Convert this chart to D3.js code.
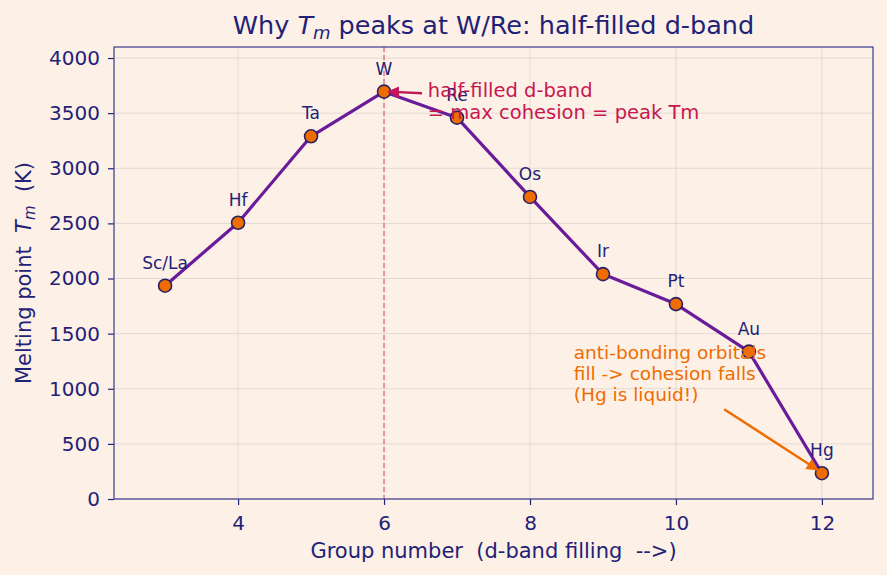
<!DOCTYPE html>
<html>
<head>
<meta charset="utf-8">
<script src="https://cdn.jsdelivr.net/npm/d3@7"></script>
<style>
  body { margin: 0; background: #fdf1e7; }
  svg text { font-family: "DejaVu Sans", sans-serif; white-space: pre; }
</style>
</head>
<body>
<svg id="chart"></svg>
<script>
// values
const groups = [3, 4, 5, 6, 7, 8, 9, 10, 11, 12];
const elements = ["Sc/La", "Hf", "Ta", "W", "Re", "Os", "Ir", "Pt", "Au", "Hg"];
const meltingK = [1935, 2506, 3290, 3695, 3459, 2740, 2040, 1768, 1337, 234];
const xTicks = [4, 6, 8, 10, 12];
const yTicks = [0, 500, 1000, 1500, 2000, 2500, 3000, 3500, 4000];

const W = 887, H = 575;
const margin = {top: 47, right: 14, bottom: 76, left: 114};
const width = W - margin.left - margin.right;
const height = H - margin.top - margin.bottom;

const navy = "#1f2276";
const svg = d3.select("#chart").attr("width", W).attr("height", H);
svg.append("rect").attr("width", W).attr("height", H).attr("fill", "#fdf1e7");

const g = svg.append("g").attr("transform", `translate(${margin.left},${margin.top})`);

const x = d3.scaleLinear().domain([2.3, 12.7]).range([0, width]);
const y = d3.scaleLinear().domain([0, 4100]).range([height, 0]);

// grid
g.append("g").selectAll("line").data(xTicks).join("line")
  .attr("x1", d => x(d)).attr("x2", d => x(d)).attr("y1", 0).attr("y2", height)
  .attr("stroke", "#b8b0b0").attr("stroke-opacity", 0.35).attr("stroke-width", 1);
g.append("g").selectAll("line").data(yTicks).join("line")
  .attr("y1", d => y(d)).attr("y2", d => y(d)).attr("x1", 0).attr("x2", width)
  .attr("stroke", "#b8b0b0").attr("stroke-opacity", 0.35).attr("stroke-width", 1);

// dashed marker at W
g.append("line")
  .attr("x1", x(6)).attr("x2", x(6)).attr("y1", 0).attr("y2", height)
  .attr("stroke", "#d0506a").attr("stroke-width", 1.2).attr("stroke-dasharray", "5,3")
  .attr("opacity", 0.85);

// axes
const xAxis = g.append("g").attr("transform", `translate(0,${height})`)
  .call(d3.axisBottom(x).tickValues(xTicks).tickFormat(d3.format("d")).tickSize(6).tickPadding(11));
const yAxis = g.append("g")
  .call(d3.axisLeft(y).tickValues(yTicks).tickFormat(d3.format("d")).tickSize(6).tickPadding(8));
[xAxis, yAxis].forEach(a => {
  a.attr("font-family", "DejaVu Sans");
  a.selectAll("text").attr("fill", navy).style("font-size", "20px");
  a.selectAll("line").attr("stroke", navy).attr("stroke-width", 1.2);
  a.select(".domain").remove();
});

g.append("rect").attr("width", width).attr("height", height)
  .attr("fill", "none").attr("stroke", "#3b3a8c").attr("stroke-width", 1.2);

// line + points
const line = d3.line().x((d, i) => x(groups[i])).y(d => y(d));
g.append("path").datum(meltingK)
  .attr("d", line).attr("fill", "none")
  .attr("stroke", "#6a1b9a").attr("stroke-width", 3.2).attr("stroke-linejoin", "round");

g.selectAll(".pt").data(meltingK).join("circle")
  .attr("class", "pt")
  .attr("cx", (d, i) => x(groups[i])).attr("cy", d => y(d)).attr("r", 6.5)
  .attr("fill", "#ef6c00").attr("stroke", "#2b2266").attr("stroke-width", 1.6);

g.selectAll(".lbl").data(meltingK).join("text")
  .attr("class", "lbl")
  .attr("x", (d, i) => x(groups[i])).attr("y", d => y(d) - 17)
  .attr("text-anchor", "middle").attr("fill", navy).style("font-size", "17px")
  .text((d, i) => elements[i]);

// arrows
const defs = svg.append("defs");
function marker(id, color) {
  defs.append("marker").attr("id", id).attr("viewBox", "0 0 10 10")
    .attr("refX", 9).attr("refY", 5).attr("markerWidth", 5).attr("markerHeight", 5)
    .attr("orient", "auto")
    .append("path").attr("d", "M0,0 L10,5 L0,10 Z").attr("fill", color);
}
marker("arrC", "#c2185b");
marker("arrO", "#ef6c00");

// annotation at W
g.append("line")
  .attr("x1", x(6.52)).attr("y1", y(3680)).attr("x2", x(6.06)).attr("y2", y(3695))
  .attr("stroke", "#c2185b").attr("stroke-width", 2.4).attr("marker-end", "url(#arrC)");
const t1 = g.append("text").attr("fill", "#c8174f").style("font-size", "19.5px");
t1.append("tspan").attr("x", x(6.6)).attr("y", 50).text("half-filled d-band");
t1.append("tspan").attr("x", x(6.6)).attr("y", 72).text("= max cohesion = peak Tm");

// annotation at Hg
g.append("line")
  .attr("x1", x(10.66)).attr("y1", y(815)).attr("x2", x(11.94)).attr("y2", y(265))
  .attr("stroke", "#ef6c00").attr("stroke-width", 2.4).attr("marker-end", "url(#arrO)");
const t2 = g.append("text").attr("fill", "#ef6c00").style("font-size", "18.5px");
["anti-bonding orbitals", "fill -> cohesion falls", "(Hg is liquid!)"].forEach((s, i) => {
  t2.append("tspan").attr("x", x(8.6)).attr("y", 312 + i * 21).text(s);
});

// titles
const title = svg.append("text").attr("x", margin.left + width / 2).attr("y", 34)
  .attr("text-anchor", "middle").attr("fill", navy).style("font-size", "25.5px");
title.append("tspan").text("Why ");
title.append("tspan").attr("font-style", "italic").text("T");
title.append("tspan").attr("font-style", "italic").attr("dy", 5).style("font-size", "18px").text("m");
title.append("tspan").attr("dy", -5).text(" peaks at W/Re: half-filled d-band");

svg.append("text").attr("x", margin.left + width / 2).attr("y", 558)
  .attr("text-anchor", "middle").attr("fill", navy).style("font-size", "21px")
  .text("Group number  (d-band filling  -->)");

const yl = svg.append("text")
  .attr("transform", `translate(31,${margin.top + height / 2}) rotate(-90)`)
  .attr("text-anchor", "middle").attr("fill", navy).style("font-size", "21px");
yl.append("tspan").text("Melting point  ");
yl.append("tspan").attr("font-style", "italic").text("T");
yl.append("tspan").attr("font-style", "italic").attr("dy", 4).style("font-size", "15px").text("m");
yl.append("tspan").attr("dy", -4).text("  (K)");
</script>
</body>
</html>
